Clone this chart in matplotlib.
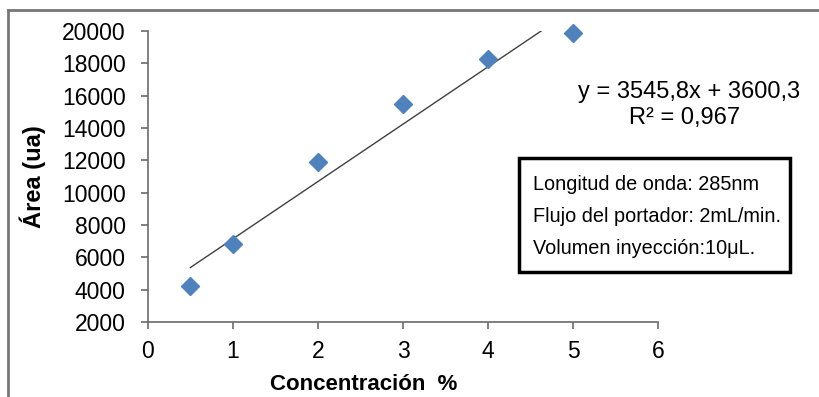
import numpy as np
import matplotlib.pyplot as plt
from matplotlib.patches import Rectangle
from matplotlib.lines import Line2D

# Data
conc = [0.5, 1, 2, 3, 4, 5]
area = [4250, 6820, 11880, 15460, 18260, 19900]
slope = 3545.8
intercept = 3600.3
eq_text = "y = 3545,8x + 3600,3"
r2_text = "R² = 0,967"
info_lines = ["Longitud de onda: 285nm",
              "Flujo del portador: 2mL/min.",
              "Volumen inyección:10μL."]

plt.rcParams['font.family'] = ['Liberation Sans', 'DejaVu Sans']

W, H = 820, 397
fig = plt.figure(figsize=(W/100, H/100), dpi=100)
ax = fig.add_axes([148/W, 1-322/H, 510/W, 291/H])

# outer chart border (cut off on right and bottom)
fig.add_artist(Line2D([8/W, 8/W], [0, 1-10/H], color='#777777', linewidth=2))
fig.add_artist(Line2D([8/W, 1], [1-10/H, 1-10/H], color='#777777', linewidth=2))

# trendline
xt = np.array([0.5, 5.0])
ax.plot(xt, slope*xt + intercept, color='#404040', linewidth=1)

ax.plot(conc, area, linestyle='none', marker='D', markersize=9.5,
        color='#4F81BD', clip_on=False, zorder=3)

ax.set_xlim(0, 6)
ax.set_ylim(2000, 20000)
ax.set_xticks(range(0, 7))
ax.set_yticks(range(2000, 20001, 2000))

for s in ['top', 'right']:
    ax.spines[s].set_visible(False)
for s in ['left', 'bottom']:
    ax.spines[s].set_color('#6b6b6b')
    ax.spines[s].set_linewidth(1.2)
ax.tick_params(axis='both', direction='out', length=5, width=1.2,
               color='#6b6b6b', labelsize=16.5)
ax.tick_params(axis='y', pad=11)
ax.tick_params(axis='x', pad=8)

ax.set_ylabel('Área (ua)', fontsize=17, fontweight='bold')
ax.yaxis.set_label_coords((46-148)/510, 0.5)
ax.set_xlabel('Concentración  %', fontsize=16, fontweight='bold')
ax.xaxis.set_label_coords((364-148)/510, -(384-322)/291)
ax.xaxis.label.set_va('center')

fig.text(689/W, 1-92/H, eq_text, fontsize=17, ha='center', va='center')
fig.text(685/W, 1-118/H, r2_text, fontsize=17, ha='center', va='center')

# info box
fig.patches.append(Rectangle((519/W, 1-272/H), 271/W, 114/H,
                             transform=fig.transFigure, fill=False,
                             edgecolor='black', linewidth=2.5))
for i, line in enumerate(info_lines):
    fig.text(533/W, 1-(184 + 32*i)/H, line, fontsize=14.3, ha='left',
             va='center', color='black')

fig.savefig('out.png', dpi=100)
